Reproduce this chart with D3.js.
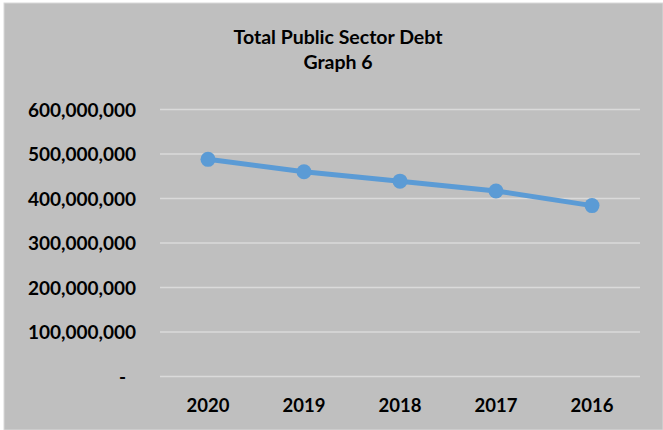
<!DOCTYPE html>
<html>
<head>
<meta charset="utf-8">
<script src="https://cdn.jsdelivr.net/npm/d3@7/dist/d3.min.js"></script>
<style>
  html, body { margin: 0; padding: 0; background: #ffffff; }
  svg { display: block; }
  text { font-family: Lato, "Open Sans", sans-serif; font-weight: 700; fill: #000; }
</style>
</head>
<body>
<script>
// Total public sector debt by year (newest first)
const years = ["2020", "2019", "2018", "2017", "2016"];
const debt = [488000000, 460000000, 439000000, 417000000, 384000000];
const yTicks = [0, 100000000, 200000000, 300000000, 400000000, 500000000, 600000000];
const titleLines = ["Total Public Sector Debt", "Graph 6"];

const W = 663, H = 430;
const svg = d3.select("body").append("svg").attr("width", W).attr("height", H);

// chart area panel
svg.append("rect").attr("x", 0).attr("y", 0).attr("width", W).attr("height", H).attr("fill", "#ffffff");
svg.append("rect").attr("x", 4).attr("y", 3).attr("width", W - 4).attr("height", H - 3)
  .attr("fill", "#bfbfbf").attr("stroke", "#d9d9d9").attr("stroke-width", 1);

const plot = { left: 160, right: 640, top: 109.5, bottom: 376.5 };

const x = d3.scaleBand().domain(years).range([plot.left, plot.right]);
const y = d3.scaleLinear().domain([0, 600000000]).range([plot.bottom, plot.top]);

const fmt = d3.format(",");

// horizontal gridlines
svg.append("g").selectAll("line").data(yTicks).join("line")
  .attr("x1", plot.left).attr("x2", plot.right)
  .attr("y1", d => y(d)).attr("y2", d => y(d))
  .attr("stroke", "#dadada").attr("stroke-width", 1.5);

// y axis labels (zero shown as a dash, accounting style)
const yAxis = d3.axisLeft(y).tickValues(yTicks).tickSize(0).tickPadding(0)
  .tickFormat(d => d === 0 ? "-" : fmt(d));
const gy = svg.append("g").attr("transform", `translate(136,0)`).call(yAxis);
gy.select(".domain").remove();
gy.selectAll("text").style("font-size", "19px").style("font-family", "Lato, sans-serif")
  .attr("dy", "0.36em")
  .attr("x", d => d === 0 ? -10 : 0);

// x axis labels
const xAxis = d3.axisBottom(x).tickSize(0).tickPadding(0);
const gx = svg.append("g").attr("transform", `translate(0,${plot.bottom})`).call(xAxis);
gx.select(".domain").remove();
gx.selectAll("text").style("font-size", "18.5px").style("font-family", "Lato, sans-serif")
  .attr("y", 35.2).attr("dy", 0);

// series line
const pts = years.map((yr, i) => ({ yr, v: debt[i] }));
const line = d3.line().x(d => x(d.yr) + x.bandwidth() / 2).y(d => y(d.v));
svg.append("path").datum(pts).attr("d", line)
  .attr("fill", "none").attr("stroke", "#5b9bd5").attr("stroke-width", 5)
  .attr("stroke-linejoin", "round");

svg.append("g").selectAll("circle").data(pts).join("circle")
  .attr("cx", d => x(d.yr) + x.bandwidth() / 2).attr("cy", d => y(d.v))
  .attr("r", 7.5).attr("fill", "#5b9bd5");

// title
svg.append("g").selectAll("text").data(titleLines).join("text")
  .attr("x", 338).attr("y", (d, i) => 44 + i * 25.3)
  .attr("text-anchor", "middle").style("font-size", "19.5px")
  .text(d => d);
</script>
</body>
</html>
